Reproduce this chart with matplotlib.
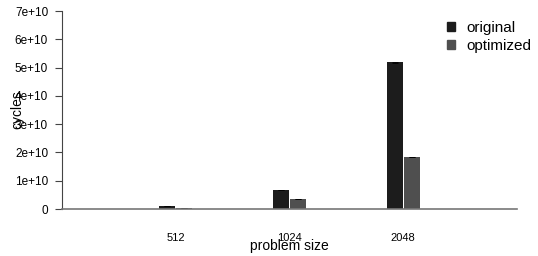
import numpy as np
import matplotlib
matplotlib.use("Agg")
import matplotlib.pyplot as plt
from matplotlib.patches import Patch

sizes = ["512", "1024", "2048"]
original = [1.0e9, 6.7e9, 5.19e10]
optimized = [0.5e9, 3.5e9, 1.84e10]
err_orig = [4e7, 8e7, 2e8]
err_opt = [3e7, 6e7, 1.5e8]

plt.rcParams['font.family'] = ['Liberation Sans', 'DejaVu Sans']
W, H = 538, 256
fig = plt.figure(figsize=(W/100, H/100), dpi=100)
ax = fig.add_axes([62/W, 1-209/H, (517-62)/W, (209-11)/H])

x = np.arange(1, len(sizes)+1)
bw = 0.14
ekw = dict(ecolor='black', capsize=2, elinewidth=0.6, capthick=0.6)
ax.bar(x-bw/2-0.005, original, bw, color='#1c1c1c', yerr=err_orig, error_kw=ekw)
ax.bar(x+bw/2+0.005, optimized, bw, color='#4f4f4f', yerr=err_opt, error_kw=ekw)

ax.set_xlim(0, 4)
ax.set_ylim(0, 7e10)
ax.set_yticks(np.arange(0, 8e10, 1e10))
ax.set_yticklabels(["0"] + [f"{i}e+10" for i in range(1, 8)])
ax.set_xticks(x)
ax.set_xticklabels(sizes)
ax.tick_params(axis='x', length=0, pad=17, labelsize=8)
ax.tick_params(axis='y', length=5, width=0.8, color='#444444', labelsize=8.5, pad=5)
for s in ['top', 'right']:
    ax.spines[s].set_visible(False)
ax.spines['left'].set_color('#444444')
ax.spines['bottom'].set_color('#777777')
ax.spines['bottom'].set_linewidth(1.2)

ax.set_xlabel("problem size", fontsize=10)
ax.xaxis.set_label_coords(0.5, -0.15)
ax.set_ylabel("cycles", fontsize=10)
ax.yaxis.set_label_coords(-0.082, 0.5)

handles = [Patch(color='#1c1c1c'), Patch(color='#4f4f4f')]
fig.legend(handles, ["original", "optimized"], loc='upper left',
           bbox_to_anchor=(436/W, 1-10/H), frameon=False, fontsize=11,
           handlelength=0.55, handleheight=0.55, handletextpad=0.75,
           labelspacing=0.3, borderpad=0.2)

fig.savefig("out.png", dpi=100)
